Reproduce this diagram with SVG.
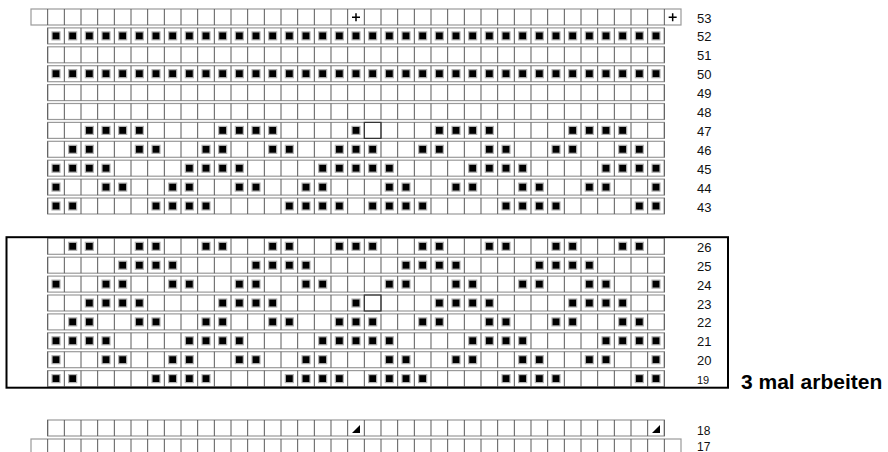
<svg xmlns="http://www.w3.org/2000/svg" width="888" height="452" viewBox="0 0 888 452">
<style>
.bg{fill:#fff}
.rowbox{fill:#fff;stroke:#9a9a9a;stroke-width:1.2}
.vl{fill:none;stroke:#5a5a5a;stroke-width:1}
.sq{fill:#000;stroke:#b0b0b0;stroke-width:1.2}
.lbl{font-family:"Liberation Sans",Arial,sans-serif;font-size:13px;fill:#111}
.note{font-family:"Liberation Sans",Arial,sans-serif;font-size:21px;font-weight:bold;fill:#000}
.sym{fill:none;stroke:#000;stroke-width:1.5}
</style>
<defs>
<rect id="sq" class="sq" x="-4" y="-4" width="8" height="8"/>
<g id="row37">
<rect class="rowbox" x="0" y="0" width="616.67" height="16"/>
<path class="vl" d="M0,0v16M16.67,0v16M33.33,0v16M50,0v16M66.67,0v16M83.33,0v16M100,0v16M116.67,0v16M133.33,0v16M150,0v16M166.67,0v16M183.33,0v16M200,0v16M216.67,0v16M233.33,0v16M250,0v16M266.67,0v16M283.33,0v16M300,0v16M316.67,0v16M333.33,0v16M350,0v16M366.67,0v16M383.33,0v16M400,0v16M416.67,0v16M433.33,0v16M450,0v16M466.67,0v16M483.33,0v16M500,0v16M516.67,0v16M533.33,0v16M550,0v16M566.67,0v16M583.33,0v16M600,0v16M616.67,0v16"/>
</g>
<g id="row39">
<rect class="rowbox" x="0" y="0" width="650" height="16"/>
<path class="vl" d="M16.67,0v16M33.33,0v16M50,0v16M66.67,0v16M83.33,0v16M100,0v16M116.67,0v16M133.33,0v16M150,0v16M166.67,0v16M183.33,0v16M200,0v16M216.67,0v16M233.33,0v16M250,0v16M266.67,0v16M283.33,0v16M300,0v16M316.67,0v16M333.33,0v16M350,0v16M366.67,0v16M383.33,0v16M400,0v16M416.67,0v16M433.33,0v16M450,0v16M466.67,0v16M483.33,0v16M500,0v16M516.67,0v16M533.33,0v16M550,0v16M566.67,0v16M583.33,0v16M600,0v16M616.67,0v16M633.33,0v16"/>
</g>
<g id="pFull">
<use href="#sq" x="56"/><use href="#sq" x="72.67"/><use href="#sq" x="89.33"/><use href="#sq" x="106"/><use href="#sq" x="122.67"/><use href="#sq" x="139.33"/><use href="#sq" x="156"/><use href="#sq" x="172.67"/><use href="#sq" x="189.33"/><use href="#sq" x="206"/><use href="#sq" x="222.67"/><use href="#sq" x="239.33"/><use href="#sq" x="256"/><use href="#sq" x="272.67"/><use href="#sq" x="289.33"/><use href="#sq" x="306"/><use href="#sq" x="322.67"/><use href="#sq" x="339.33"/><use href="#sq" x="356"/><use href="#sq" x="372.67"/><use href="#sq" x="389.33"/><use href="#sq" x="406"/><use href="#sq" x="422.67"/><use href="#sq" x="439.33"/><use href="#sq" x="456"/><use href="#sq" x="472.67"/><use href="#sq" x="489.33"/><use href="#sq" x="506"/><use href="#sq" x="522.67"/><use href="#sq" x="539.33"/><use href="#sq" x="556"/><use href="#sq" x="572.67"/><use href="#sq" x="589.33"/><use href="#sq" x="606"/><use href="#sq" x="622.67"/><use href="#sq" x="639.33"/><use href="#sq" x="656"/>
</g>
<g id="pA">
<use href="#sq" x="89.33"/><use href="#sq" x="106"/><use href="#sq" x="122.67"/><use href="#sq" x="139.33"/><use href="#sq" x="222.67"/><use href="#sq" x="239.33"/><use href="#sq" x="256"/><use href="#sq" x="272.67"/><use href="#sq" x="356"/><use href="#sq" x="439.33"/><use href="#sq" x="456"/><use href="#sq" x="472.67"/><use href="#sq" x="489.33"/><use href="#sq" x="572.67"/><use href="#sq" x="589.33"/><use href="#sq" x="606"/><use href="#sq" x="622.67"/>
<rect x="364.33" y="-8" width="16.67" height="16" fill="none" stroke="#333" stroke-width="1.2"/>
</g>
<g id="pB">
<use href="#sq" x="72.67"/><use href="#sq" x="89.33"/><use href="#sq" x="139.33"/><use href="#sq" x="156"/><use href="#sq" x="206"/><use href="#sq" x="222.67"/><use href="#sq" x="272.67"/><use href="#sq" x="289.33"/><use href="#sq" x="339.33"/><use href="#sq" x="356"/><use href="#sq" x="372.67"/><use href="#sq" x="422.67"/><use href="#sq" x="439.33"/><use href="#sq" x="489.33"/><use href="#sq" x="506"/><use href="#sq" x="556"/><use href="#sq" x="572.67"/><use href="#sq" x="622.67"/><use href="#sq" x="639.33"/>
</g>
<g id="pC">
<use href="#sq" x="56"/><use href="#sq" x="72.67"/><use href="#sq" x="89.33"/><use href="#sq" x="106"/><use href="#sq" x="189.33"/><use href="#sq" x="206"/><use href="#sq" x="222.67"/><use href="#sq" x="239.33"/><use href="#sq" x="322.67"/><use href="#sq" x="339.33"/><use href="#sq" x="356"/><use href="#sq" x="372.67"/><use href="#sq" x="389.33"/><use href="#sq" x="472.67"/><use href="#sq" x="489.33"/><use href="#sq" x="506"/><use href="#sq" x="522.67"/><use href="#sq" x="606"/><use href="#sq" x="622.67"/><use href="#sq" x="639.33"/><use href="#sq" x="656"/>
</g>
<g id="pD">
<use href="#sq" x="56"/><use href="#sq" x="106"/><use href="#sq" x="122.67"/><use href="#sq" x="172.67"/><use href="#sq" x="189.33"/><use href="#sq" x="239.33"/><use href="#sq" x="256"/><use href="#sq" x="306"/><use href="#sq" x="322.67"/><use href="#sq" x="389.33"/><use href="#sq" x="406"/><use href="#sq" x="456"/><use href="#sq" x="472.67"/><use href="#sq" x="522.67"/><use href="#sq" x="539.33"/><use href="#sq" x="589.33"/><use href="#sq" x="606"/><use href="#sq" x="656"/>
</g>
<g id="pE">
<use href="#sq" x="56"/><use href="#sq" x="72.67"/><use href="#sq" x="156"/><use href="#sq" x="172.67"/><use href="#sq" x="189.33"/><use href="#sq" x="206"/><use href="#sq" x="289.33"/><use href="#sq" x="306"/><use href="#sq" x="322.67"/><use href="#sq" x="339.33"/><use href="#sq" x="372.67"/><use href="#sq" x="389.33"/><use href="#sq" x="406"/><use href="#sq" x="422.67"/><use href="#sq" x="506"/><use href="#sq" x="522.67"/><use href="#sq" x="539.33"/><use href="#sq" x="556"/><use href="#sq" x="639.33"/><use href="#sq" x="656"/>
</g>
<g id="pF">
<use href="#sq" x="122.67"/><use href="#sq" x="139.33"/><use href="#sq" x="156"/><use href="#sq" x="172.67"/><use href="#sq" x="256"/><use href="#sq" x="272.67"/><use href="#sq" x="289.33"/><use href="#sq" x="306"/><use href="#sq" x="406"/><use href="#sq" x="422.67"/><use href="#sq" x="439.33"/><use href="#sq" x="456"/><use href="#sq" x="539.33"/><use href="#sq" x="556"/><use href="#sq" x="572.67"/><use href="#sq" x="589.33"/>
</g>
<path id="plus" class="sym" d="M-4,0H4M0,-4V4"/>
<path id="tri" d="M-4,5H4V-3Z" fill="#000"/>
</defs>
<rect class="bg" x="0" y="0" width="888" height="452"/>

<g id="grid">
<use href="#row39" x="31" y="9"/>
<use href="#row37" x="47.67" y="27.9"/>
<use href="#row37" x="47.67" y="46.8"/>
<use href="#row37" x="47.67" y="65.7"/>
<use href="#row37" x="47.67" y="84.6"/>
<use href="#row37" x="47.67" y="103.5"/>
<use href="#row37" x="47.67" y="122.4"/>
<use href="#row37" x="47.67" y="141.3"/>
<use href="#row37" x="47.67" y="160.2"/>
<use href="#row37" x="47.67" y="179.1"/>
<use href="#row37" x="47.67" y="198"/>
<use href="#row37" x="47.67" y="238.3"/>
<use href="#row37" x="47.67" y="257.2"/>
<use href="#row37" x="47.67" y="276.1"/>
<use href="#row37" x="47.67" y="295"/>
<use href="#row37" x="47.67" y="313.9"/>
<use href="#row37" x="47.67" y="332.8"/>
<use href="#row37" x="47.67" y="351.7"/>
<use href="#row37" x="47.67" y="370.6"/>
<use href="#row37" x="47.67" y="420"/>
<use href="#row39" x="31" y="439"/>
</g>

<g id="stitches">
<use href="#plus" x="356" y="17.3"/>
<use href="#plus" x="672.67" y="17.3"/>
<use href="#pFull" y="35.9"/>
<use href="#pFull" y="73.7"/>
<use href="#pA" y="130.4"/>
<use href="#pB" y="149.3"/>
<use href="#pC" y="168.2"/>
<use href="#pD" y="187.1"/>
<use href="#pE" y="206"/>
<use href="#pB" y="246.3"/>
<use href="#pF" y="265.2"/>
<use href="#pD" y="284.1"/>
<use href="#pA" y="303"/>
<use href="#pB" y="321.9"/>
<use href="#pC" y="340.8"/>
<use href="#pD" y="359.7"/>
<use href="#pE" y="378.6"/>
<use href="#tri" x="356" y="428"/>
<use href="#tri" x="656" y="428"/>
</g>

<g id="repeat-box">
<rect x="6.5" y="237.2" width="721.5" height="150.5" fill="none" stroke="#000" stroke-width="2"/>
</g>

<g id="labels">
<text class="lbl" x="697" y="22.5">53</text>
<text class="lbl" x="697" y="41.4">52</text>
<text class="lbl" x="697" y="60.3">51</text>
<text class="lbl" x="697" y="79.2">50</text>
<text class="lbl" x="697" y="98.1">49</text>
<text class="lbl" x="697" y="117">48</text>
<text class="lbl" x="697" y="135.9">47</text>
<text class="lbl" x="697" y="154.8">46</text>
<text class="lbl" x="697" y="173.7">45</text>
<text class="lbl" x="697" y="192.6">44</text>
<text class="lbl" x="697" y="211.5">43</text>
<text class="lbl" x="697" y="251.8">26</text>
<text class="lbl" x="697" y="270.7">25</text>
<text class="lbl" x="697" y="289.6">24</text>
<text class="lbl" x="697" y="308.5">23</text>
<text class="lbl" x="697" y="327.4">22</text>
<text class="lbl" x="697" y="346.3">21</text>
<text class="lbl" x="697" y="365.2">20</text>
<text class="lbl" x="697" y="384.1" style="font-size:11px">19</text>
<text class="lbl" x="697" y="434.5" style="font-size:12px">18</text>
<text class="lbl" x="697" y="450.5" style="font-size:12px">17</text>
<text class="note" x="741" y="388.5">3 mal arbeiten</text>
</g>
</svg>
